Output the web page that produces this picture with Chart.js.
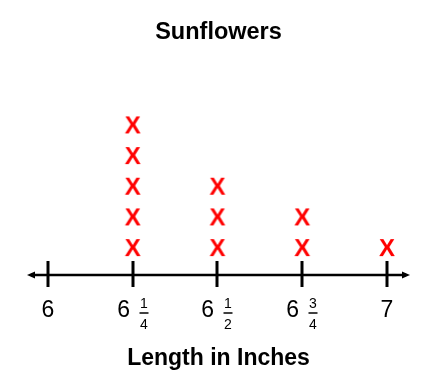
<!DOCTYPE html>
<html>
<head>
<meta charset="utf-8">
<script src="https://cdn.jsdelivr.net/npm/chart.js@4"></script>
<style>
    body { margin: 0; background: #fff; }
    #wrap { width: 438px; height: 386px; }
</style>
</head>
<body>
<div id="wrap"><canvas id="plot"></canvas></div>
<script>
// Line plot data
const lengths = [6, 6.25, 6.5, 6.75, 7];
const counts = [0, 5, 3, 2, 1];
const wholeLabels = ['6', '6', '6', '6', '7'];
const numerators = [null, '1', '1', '3', null];
const denominators = [null, '4', '2', '4', null];

const FONT = '"Liberation Sans", Arial, sans-serif';

// one point per X mark, stacked from 1 up to the count
const marks = [];
lengths.forEach((v, i) => {
    for (let n = 1; n <= counts[i]; n++) {
        marks.push({ x: v, y: n });
    }
});

// red X used as the point style
const xMark = document.createElement('canvas');
xMark.width = 24;
xMark.height = 24;
const mctx = xMark.getContext('2d');
mctx.fillStyle = '#ff0000';
mctx.font = 'bold 24px ' + FONT;
mctx.textAlign = 'center';
mctx.textBaseline = 'middle';
mctx.fillText('X', 12, 13);

// draws the number line, tick marks and fraction labels
const numberLine = {
    id: 'numberLine',
    afterDraw(chart) {
        const ctx = chart.ctx;
        const area = chart.chartArea;
        const xs = chart.scales.x;
        const y0 = area.bottom;
        ctx.save();
        ctx.strokeStyle = '#000';
        ctx.fillStyle = '#000';

        ctx.lineWidth = 2.5;
        ctx.beginPath();
        ctx.moveTo(area.left + 4, y0);
        ctx.lineTo(area.right - 4, y0);
        ctx.stroke();

        // arrow heads
        ctx.beginPath();
        ctx.moveTo(area.left, y0);
        ctx.lineTo(area.left + 8, y0 - 3.5);
        ctx.lineTo(area.left + 8, y0 + 3.5);
        ctx.closePath();
        ctx.fill();
        ctx.beginPath();
        ctx.moveTo(area.right, y0);
        ctx.lineTo(area.right - 8, y0 - 3.5);
        ctx.lineTo(area.right - 8, y0 + 3.5);
        ctx.closePath();
        ctx.fill();

        lengths.forEach((v, i) => {
            const px = Math.round(xs.getPixelForValue(v));
            ctx.lineWidth = 3;
            ctx.beginPath();
            ctx.moveTo(px, y0 - 14);
            ctx.lineTo(px, y0 + 12);
            ctx.stroke();

            ctx.font = '23px ' + FONT;
            ctx.textBaseline = 'middle';
            if (numerators[i] === null) {
                ctx.textAlign = 'center';
                ctx.fillText(wholeLabels[i], px, y0 + 36);
            } else {
                ctx.textAlign = 'right';
                ctx.fillText(wholeLabels[i], px - 3, y0 + 36);
                const fx = px + 11;
                ctx.font = '14px ' + FONT;
                ctx.textAlign = 'center';
                ctx.fillText(numerators[i], fx, y0 + 29);
                ctx.fillText(denominators[i], fx, y0 + 50);
                ctx.lineWidth = 1.5;
                ctx.beginPath();
                ctx.moveTo(fx - 4.5, y0 + 38);
                ctx.lineTo(fx + 4.5, y0 + 38);
                ctx.stroke();
            }
        });
        ctx.restore();
    }
};

new Chart(document.getElementById('plot'), {
    type: 'scatter',
    data: {
        datasets: [{
            data: marks,
            pointStyle: xMark,
            pointRadius: 10,
            pointHoverRadius: 10
        }]
    },
    options: {
        responsive: true,
        maintainAspectRatio: false,
        animation: false,
        layout: {
            padding: { top: 18, left: 27, right: 28, bottom: 0 }
        },
        scales: {
            x: { display: false, min: 5.938, max: 7.068 },
            y: { display: false, min: 0.122, max: 7.322 }
        },
        plugins: {
            legend: { display: false },
            tooltip: { enabled: false },
            title: {
                display: true,
                text: 'Sunflowers',
                color: '#000',
                font: { family: FONT, size: 23.5, weight: 'bold', lineHeight: 1.2 },
                padding: { top: 0, bottom: 8 }
            },
            subtitle: {
                display: true,
                position: 'bottom',
                text: 'Length in Inches',
                color: '#000',
                font: { family: FONT, size: 23, weight: 'bold', lineHeight: 1.2 },
                padding: { top: 69.7, bottom: 13.7 }
            }
        }
    },
    plugins: [numberLine]
});
</script>
</body>
</html>
